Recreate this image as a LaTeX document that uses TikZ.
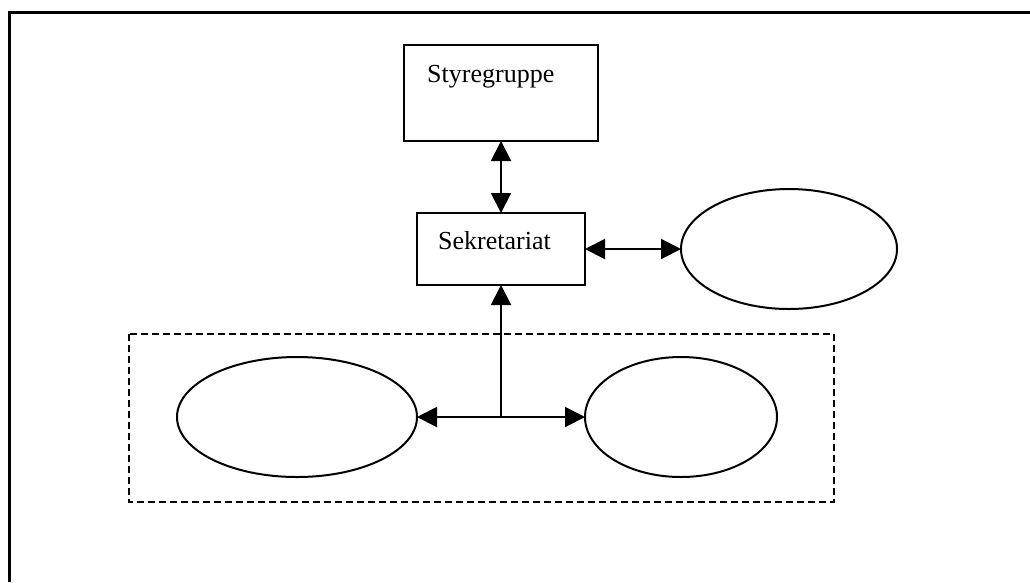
\documentclass[tikz,border=0pt]{standalone}
\usepackage{fontspec}
\setmainfont{Liberation Serif}
\usetikzlibrary{arrows.meta,shapes.geometric}
\tikzset{
  box/.style={draw,line width=2pt,rectangle,inner sep=0pt,outer sep=0pt},
  oval/.style={draw,line width=2pt,ellipse,inner sep=0pt,outer sep=0pt},
  lbl/.style={anchor=base west,inner sep=0pt,font=\fontsize{26}{30}\selectfont},
  conn/.style={line width=2pt,-{Triangle[length=20pt,width=20pt]}},
  biconn/.style={line width=2pt,{Triangle[length=20pt,width=20pt]}-{Triangle[length=20pt,width=20pt]}},
  group/.style={draw,line width=2pt,dash pattern=on 7pt off 4pt}
}
\begin{document}
\begin{tikzpicture}[x=1pt,y=-1pt]
\useasboundingbox (0,0) rectangle (1030,582);
% outer frame (cropped on right and bottom)
\draw[line width=3pt] (9,582) -- (9,12) -- (1030,12);
% dashed group
\draw[group] (129,334) rectangle (834,502);
% boxes
\node[box,minimum width=194pt,minimum height=96pt] (sty) at (501,93) {};
\node[lbl] (styt) at (427,82) {Styregruppe};
\node[box,minimum width=168pt,minimum height=72pt] (sek) at (501,249) {};
\node[lbl] (sekt) at (438,249) {Sekretariat};
% ellipses
\node[oval,minimum width=216pt,minimum height=120pt] (ellT) at (789,249) {};
\node[oval,minimum width=240pt,minimum height=120pt] (ellL) at (297,417) {};
\node[oval,minimum width=192pt,minimum height=120pt] (ellR) at (681,417) {};
% connectors
\draw[biconn] (sty.south) -- (sek.north);
\draw[biconn] (sek.east) -- (ellT.west);
\coordinate (j) at (501,417);
\draw[conn] (j) -- (sek.south);
\draw[conn] (j) -- (ellL.east);
\draw[conn] (j) -- (ellR.west);
\end{tikzpicture}
\end{document}
